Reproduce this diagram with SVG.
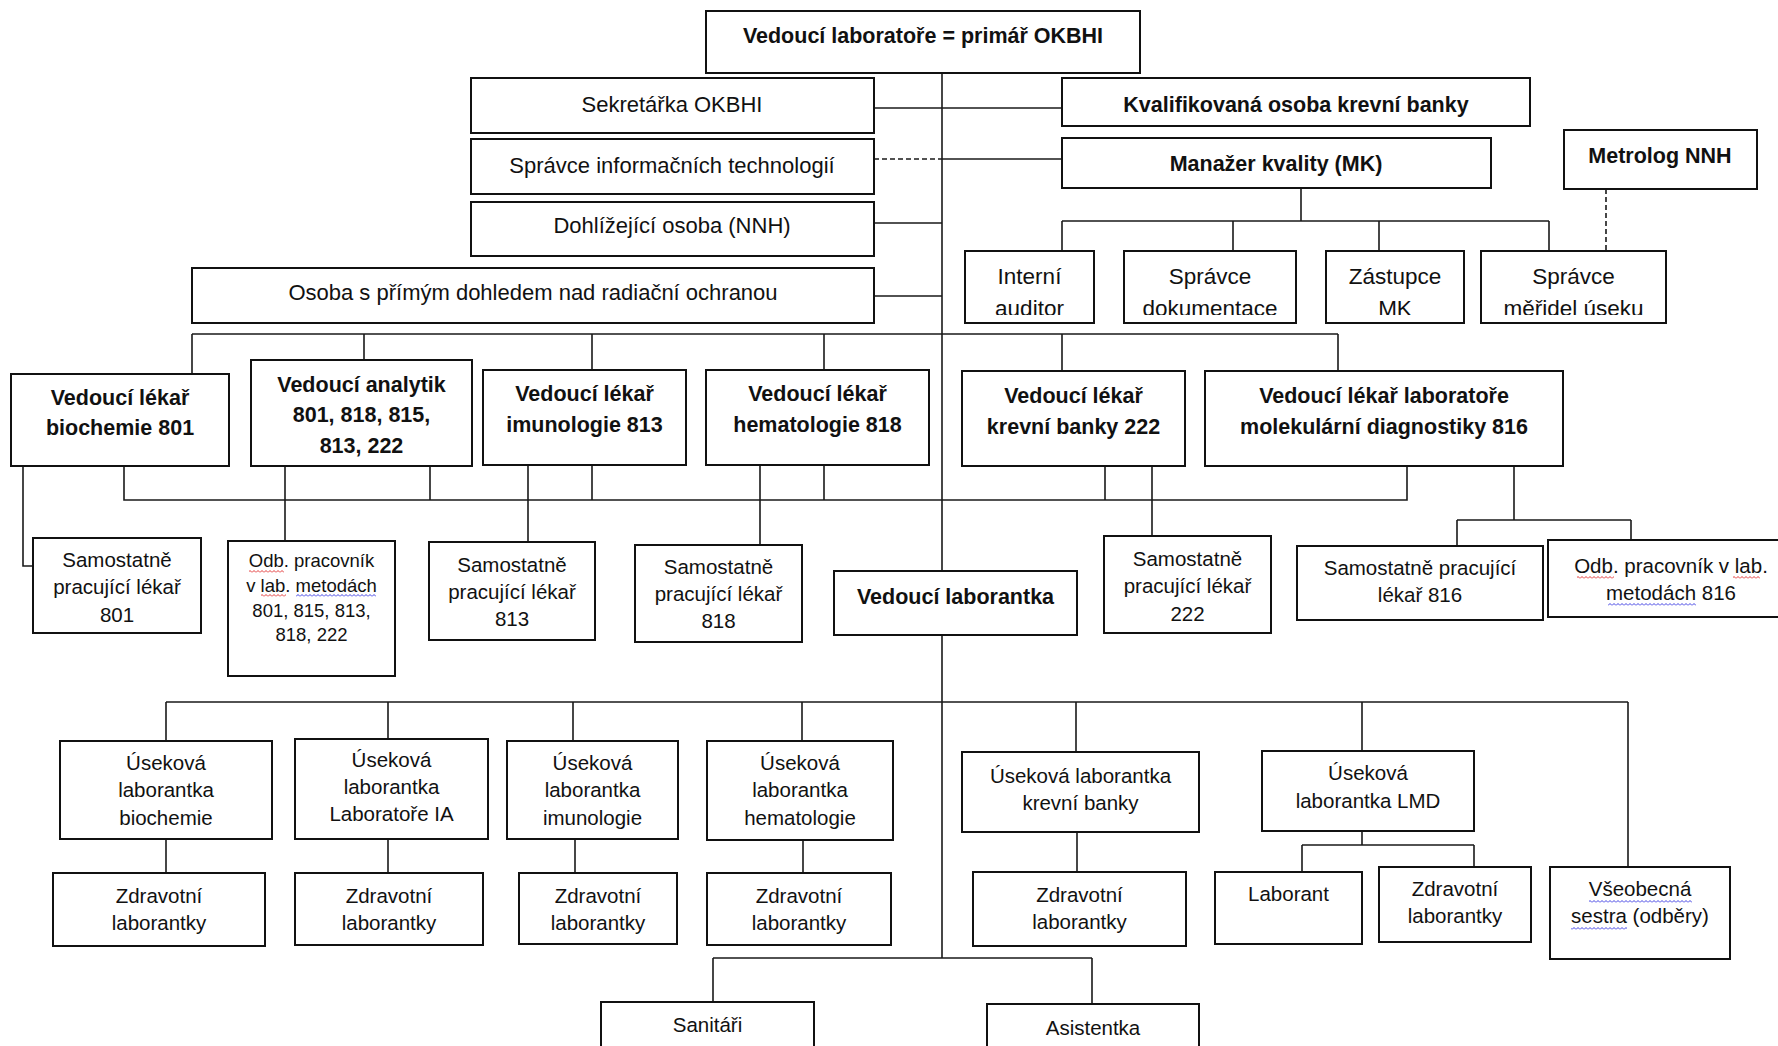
<svg xmlns="http://www.w3.org/2000/svg" width="1778" height="1046" viewBox="0 0 1778 1046">
<style>
.b{fill:#fff;stroke:#111;stroke-width:2}
.c{fill:none;stroke:#1a1a1a;stroke-width:1.6}
.d{stroke-dasharray:5 3}
text{font-family:"Liberation Sans",Arial,sans-serif;font-size:20.5px;text-anchor:middle;fill:#111}
.tb{font-weight:bold;font-size:21.5px}
.ts{font-size:18.5px}
.tl{font-size:22px}
.tq{font-size:22.5px}
</style>
<defs>
<pattern id="wr" width="4" height="3" patternUnits="userSpaceOnUse"><polyline points="0,2.5 2,0.5 4,2.5" fill="none" stroke="#e02020" stroke-width="0.9"/></pattern>
<pattern id="wb" width="4" height="3" patternUnits="userSpaceOnUse"><polyline points="0,2.5 2,0.5 4,2.5" fill="none" stroke="#2a2ae0" stroke-width="0.9"/></pattern>
<clipPath id="cq"><rect x="960" y="245" width="720" height="70"/></clipPath>
</defs>
<rect width="1778" height="1046" fill="#fff"/>

<g id="connectors">
<path class="c" d="M942 73V571M942 635V958"/>
<path class="c" d="M874 108H1062"/>
<path class="c d" d="M874 159H942"/>
<path class="c" d="M942 159H1062"/>
<path class="c" d="M874 223H942M874 296H942"/>
<path class="c" d="M1301 188V221M1062 221H1549M1062 221V251M1233 221V251M1379 221V251M1549 221V251"/>
<path class="c d" d="M1606 189V251"/>
<path class="c" d="M192 334H1338M192 334V374M364 334V360M592 334V370M824 334V370M1062 334V371M1338 334V371"/>
<path class="c" d="M124 466V500H1407V466M430 466V500M592 465V500M824 466V500M1105 466V500"/>
<path class="c" d="M23 466V566H33M285 466V541M528 465V542M760 466V545M1152 466V536"/>
<path class="c" d="M1514 466V520M1457 520H1631M1457 520V546M1631 520V540"/>
<path class="c" d="M166 702H1628M166 702V741M388 702V739M573 702V741M802 702V741M1076 702V752M1362 702V751M1628 702V867"/>
<path class="c" d="M166 839V873M388 839V873M575 839V873M803 840V873M1077 832V872"/>
<path class="c" d="M1362 831V845M1302 845H1474M1302 845V872M1474 845V867"/>
<path class="c" d="M713 958H1092M713 958V1002M1092 958V1004"/>
</g>

<g id="n-vedouci-laboratore"><rect class="b" x="706" y="11" width="434" height="62"/><text class="tb" x="923" y="43">Vedoucí laboratoře = primář OKBHI</text></g>
<g id="n-sekretarka"><rect class="b" x="471" y="78" width="403" height="55"/><text class="tl" x="672" y="112">Sekretářka OKBHI</text></g>
<g id="n-kvalifikovana"><rect class="b" x="1062" y="78" width="468" height="48"/><text class="tb" x="1296" y="112">Kvalifikovaná osoba krevní banky</text></g>
<g id="n-spravce-it"><rect class="b" x="471" y="139" width="403" height="55"/><text class="tl" x="672" y="173">Správce informačních technologií</text></g>
<g id="n-manazer"><rect class="b" x="1062" y="138" width="429" height="50"/><text class="tb" x="1276" y="171">Manažer kvality (MK)</text></g>
<g id="n-metrolog"><rect class="b" x="1564" y="130" width="193" height="59"/><text class="tb" x="1660" y="163">Metrolog NNH</text></g>
<g id="n-dohlizejici"><rect class="b" x="471" y="202" width="403" height="54"/><text class="tl" x="672" y="233">Dohlížející osoba (NNH)</text></g>
<g id="n-osoba-rad"><rect class="b" x="192" y="268" width="682" height="55"/><text class="tl" x="533" y="300">Osoba s přímým dohledem nad radiační ochranou</text></g>

<g id="n-interni"><rect class="b" x="965" y="251" width="129" height="72"/><g clip-path="url(#cq)"><text class="tq" x="1029.5" y="284">Interní</text><text class="tq" x="1029.5" y="316">auditor</text></g></g>
<g id="n-spravce-dok"><rect class="b" x="1124" y="251" width="172" height="72"/><g clip-path="url(#cq)"><text class="tq" x="1210" y="284">Správce</text><text class="tq" x="1210" y="316">dokumentace</text></g></g>
<g id="n-zastupce"><rect class="b" x="1326" y="251" width="138" height="72"/><g clip-path="url(#cq)"><text class="tq" x="1395" y="284">Zástupce</text><text class="tq" x="1395" y="316">MK</text></g></g>
<g id="n-spravce-mer"><rect class="b" x="1481" y="251" width="185" height="72"/><g clip-path="url(#cq)"><text class="tq" x="1573.5" y="284">Správce</text><text class="tq" x="1573.5" y="316">měřidel úseku</text></g></g>

<g id="n-vl-biochemie"><rect class="b" x="11" y="374" width="218" height="92"/><text class="tb" x="120" y="405">Vedoucí lékař</text><text class="tb" x="120" y="435">biochemie 801</text></g>
<g id="n-v-analytik"><rect class="b" x="251" y="360" width="221" height="106"/><text class="tb" x="361.5" y="392">Vedoucí analytik</text><text class="tb" x="361.5" y="422">801, 818, 815,</text><text class="tb" x="361.5" y="453">813, 222</text></g>
<g id="n-vl-imunologie"><rect class="b" x="483" y="370" width="203" height="95"/><text class="tb" x="584.5" y="401">Vedoucí lékař</text><text class="tb" x="584.5" y="432">imunologie 813</text></g>
<g id="n-vl-hematologie"><rect class="b" x="706" y="370" width="223" height="95"/><text class="tb" x="817.5" y="401">Vedoucí lékař</text><text class="tb" x="817.5" y="432">hematologie 818</text></g>
<g id="n-vl-krevni"><rect class="b" x="962" y="371" width="223" height="95"/><text class="tb" x="1073.5" y="403">Vedoucí lékař</text><text class="tb" x="1073.5" y="434">krevní banky 222</text></g>
<g id="n-vl-molekularni"><rect class="b" x="1205" y="371" width="358" height="95"/><text class="tb" x="1384" y="403">Vedoucí lékař laboratoře</text><text class="tb" x="1384" y="434">molekulární diagnostiky 816</text></g>

<g id="n-sam-801"><rect class="b" x="33" y="538" width="168" height="95"/><text x="117" y="567">Samostatně</text><text x="117" y="594">pracující lékař</text><text x="117" y="622">801</text></g>
<g id="n-odb-801"><rect class="b" x="228" y="541" width="167" height="135"/><text class="ts" x="311.5" y="567">Odb. pracovník</text><text class="ts" x="311.5" y="592">v lab. metodách</text><text class="ts" x="311.5" y="617">801, 815, 813,</text><text class="ts" x="311.5" y="641">818, 222</text><rect x="249" y="570" width="35" height="3" fill="url(#wr)"/><rect x="261" y="594" width="25" height="3" fill="url(#wr)"/><rect x="296" y="594" width="80" height="3" fill="url(#wb)"/></g>
<g id="n-sam-813"><rect class="b" x="429" y="542" width="166" height="98"/><text x="512" y="572">Samostatně</text><text x="512" y="599">pracující lékař</text><text x="512" y="626">813</text></g>
<g id="n-sam-818"><rect class="b" x="635" y="545" width="167" height="97"/><text x="718.5" y="574">Samostatně</text><text x="718.5" y="601">pracující lékař</text><text x="718.5" y="628">818</text></g>
<g id="n-sam-222"><rect class="b" x="1104" y="536" width="167" height="97"/><text x="1187.5" y="566">Samostatně</text><text x="1187.5" y="593">pracující lékař</text><text x="1187.5" y="621">222</text></g>
<g id="n-sam-816"><rect class="b" x="1297" y="546" width="246" height="74"/><text x="1420" y="575">Samostatně pracující</text><text x="1420" y="602">lékař 816</text></g>
<g id="n-odb-816"><rect class="b" x="1548" y="540" width="240" height="77"/><text x="1671" y="573">Odb. pracovník v lab.</text><text x="1671" y="600">metodách 816</text><rect x="1577" y="576" width="37" height="3" fill="url(#wr)"/><rect x="1733" y="576" width="27" height="3" fill="url(#wr)"/><rect x="1608" y="603" width="88" height="3" fill="url(#wb)"/></g>
<g id="n-vedouci-laborantka"><rect class="b" x="834" y="571" width="243" height="64"/><text class="tb" x="955.5" y="604">Vedoucí laborantka</text></g>

<g id="n-us-biochemie"><rect class="b" x="60" y="741" width="212" height="98"/><text x="166" y="770">Úseková</text><text x="166" y="797">laborantka</text><text x="166" y="825">biochemie</text></g>
<g id="n-us-ia"><rect class="b" x="295" y="739" width="193" height="100"/><text x="391.5" y="767">Úseková</text><text x="391.5" y="794">laborantka</text><text x="391.5" y="821">Laboratoře IA</text></g>
<g id="n-us-imunologie"><rect class="b" x="507" y="741" width="171" height="98"/><text x="592.5" y="770">Úseková</text><text x="592.5" y="797">laborantka</text><text x="592.5" y="825">imunologie</text></g>
<g id="n-us-hematologie"><rect class="b" x="707" y="741" width="186" height="99"/><text x="800" y="770">Úseková</text><text x="800" y="797">laborantka</text><text x="800" y="825">hematologie</text></g>
<g id="n-us-krevni"><rect class="b" x="962" y="752" width="237" height="80"/><text x="1080.5" y="783">Úseková laborantka</text><text x="1080.5" y="810">krevní banky</text></g>
<g id="n-us-lmd"><rect class="b" x="1262" y="751" width="212" height="80"/><text x="1368" y="780">Úseková</text><text x="1368" y="808">laborantka LMD</text></g>
<g id="n-vseobecna"><rect class="b" x="1550" y="867" width="180" height="92"/><text x="1640" y="896">Všeobecná</text><text x="1640" y="923">sestra (odběry)</text><rect x="1589" y="900" width="103" height="3" fill="url(#wb)"/><rect x="1571" y="927" width="56" height="3" fill="url(#wb)"/></g>

<g id="n-zl-1"><rect class="b" x="53" y="873" width="212" height="73"/><text x="159" y="903">Zdravotní</text><text x="159" y="930">laborantky</text></g>
<g id="n-zl-2"><rect class="b" x="295" y="873" width="188" height="72"/><text x="389" y="903">Zdravotní</text><text x="389" y="930">laborantky</text></g>
<g id="n-zl-3"><rect class="b" x="519" y="873" width="158" height="71"/><text x="598" y="903">Zdravotní</text><text x="598" y="930">laborantky</text></g>
<g id="n-zl-4"><rect class="b" x="707" y="873" width="184" height="72"/><text x="799" y="903">Zdravotní</text><text x="799" y="930">laborantky</text></g>
<g id="n-zl-5"><rect class="b" x="973" y="872" width="213" height="74"/><text x="1079.5" y="902">Zdravotní</text><text x="1079.5" y="929">laborantky</text></g>
<g id="n-laborant"><rect class="b" x="1215" y="872" width="147" height="72"/><text x="1288.5" y="901">Laborant</text></g>
<g id="n-zl-6"><rect class="b" x="1379" y="867" width="152" height="75"/><text x="1455" y="896">Zdravotní</text><text x="1455" y="923">laborantky</text></g>

<g id="n-sanitari"><rect class="b" x="601" y="1002" width="213" height="60"/><text x="707.5" y="1032">Sanitáři</text></g>
<g id="n-asistentka"><rect class="b" x="987" y="1004" width="212" height="60"/><text x="1093" y="1035">Asistentka</text></g>
</svg>
